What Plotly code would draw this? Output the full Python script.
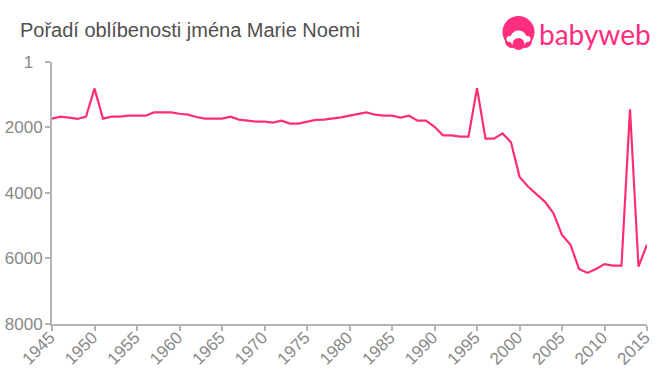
import plotly.graph_objects as go

years = list(range(1945, 2016))
ranks = [1730, 1670, 1700, 1740, 1670, 815, 1730, 1670, 1670, 1640,
         1640, 1640, 1540, 1540, 1540, 1580, 1610, 1680, 1730, 1730,
         1730, 1670, 1760, 1790, 1820, 1820, 1850, 1790, 1880, 1880,
         1820, 1770, 1760, 1730, 1690, 1640, 1600, 1540, 1610, 1640,
         1640, 1700, 1640, 1790, 1790, 1980, 2240, 2240, 2280, 2280,
         800, 2340, 2340, 2180, 2450, 3500, 3805, 4035, 4270, 4620,
         5280, 5580, 6320, 6440, 6320, 6170, 6220, 6220, 1445, 6250, 5580]
y_ticks = [1, 2000, 4000, 6000, 8000]
y_labels = ["1\u00a0\u00a0", "2000", "4000", "6000", "8000"]
x_ticks = list(range(1945, 2016, 5))
title = "Pořadí oblíbenosti jména Marie Noemi"
brand = "babyweb"

PINK = "#fe2f6f"
LOGO = "#ff2d7e"
W, H = 660, 375
L, R, T, B = 52, 647, 62, 324


def px(x):
    return (x - L) / (R - L)


def py(y):
    return (B - y) / (B - T)


def circle(cx, cy, r, color):
    return dict(type="circle", xref="paper", yref="paper", layer="above",
                x0=px(cx - r), x1=px(cx + r), y0=py(cy + r), y1=py(cy - r),
                fillcolor=color, line=dict(width=0))


fig = go.Figure(go.Scatter(x=years, y=ranks, mode="lines",
                           line=dict(color=PINK, width=2.2), hoverinfo="skip",
                           cliponaxis=False))
axis_common = dict(showgrid=False, zeroline=False, showline=True, linecolor="#b4b4b4",
                   linewidth=2, ticks="outside", tickcolor="#b4b4b4", tickwidth=2, ticklen=5,
                   automargin=False)
fig.update_xaxes(range=[1945, 2015], tickvals=x_ticks, ticktext=[str(v) for v in x_ticks],
                 tickangle=-45, ticklabelstandoff=-10, ticklabelshift=-2,
                 tickfont=dict(family="Liberation Sans", size=17, color="#888888"), **axis_common)
fig.update_yaxes(range=[8000, 1], tickvals=y_ticks, ticktext=y_labels,
                 ticklabelstandoff=-1,
                 tickfont=dict(family="Liberation Sans", size=17, color="#888888"), **axis_common)
fig.update_layout(
    width=W, height=H, autosize=False, paper_bgcolor="white", plot_bgcolor="white",
    margin=dict(l=L, r=W - R, t=T, b=H - B, pad=0),
    showlegend=False,
    annotations=[
        dict(text=title, xref="paper", yref="paper", x=px(18), y=py(30), xanchor="left",
             yanchor="middle", showarrow=False,
             font=dict(family="Liberation Sans", size=20, color="#505050")),
        dict(text=brand, xref="paper", yref="paper", x=px(537), y=py(34), xanchor="left",
             yanchor="middle", showarrow=False,
             font=dict(family="Lato", size=28, color=LOGO)),
    ],
    shapes=[
        circle(518.5, 32, 16, LOGO),
        circle(512, 41, 7, LOGO),
        circle(525, 41, 7, LOGO),
        circle(518.5, 39, 8.5, "white"),
        circle(509.5, 39, 3, "white"),
        circle(527.5, 39, 3, "white"),
        circle(518.5, 44, 6, LOGO),
    ],
)
fig.write_html("out.html", config={"displayModeBar": False},
               post_script="document.body.style.margin = '0';")
